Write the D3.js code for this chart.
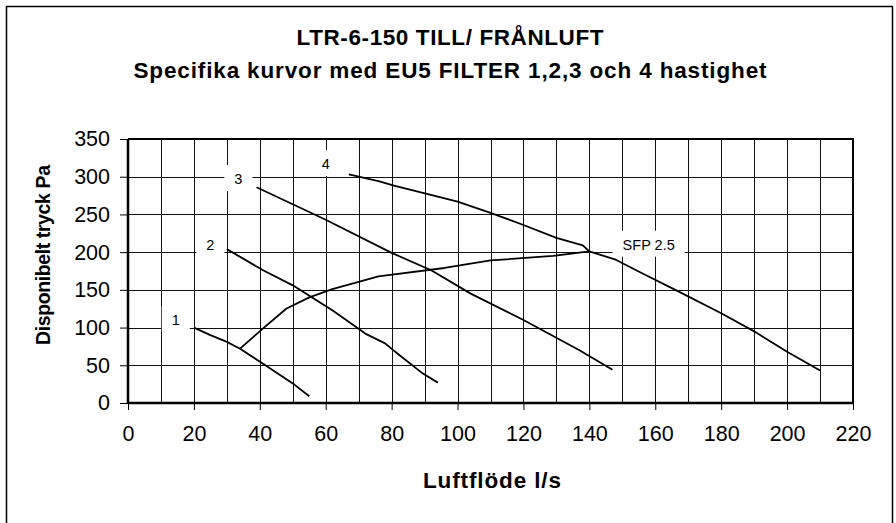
<!DOCTYPE html>
<html>
<head>
<meta charset="utf-8">
<script src="https://cdn.jsdelivr.net/npm/d3@7"></script>
<style>
  html, body { margin: 0; padding: 0; background: #fff; }
  svg { display: block; font-family: "Liberation Sans", Arial, sans-serif; }
</style>
</head>
<body>
<div id="chart"></div>
<script>
// Fan curves (x = airflow l/s, y = pressure Pa)
const curve1 = [[20, 100], [25, 90], [30, 81], [34, 72], [41, 52], [50, 26], [55, 9]];
const curve2 = [[30, 204], [41, 176], [50, 156], [62, 123], [72, 92], [78, 79], [82.5, 63], [89.5, 39], [94, 27]];
const curve3 = [[39, 286], [60, 243], [80, 199], [92, 176], [104, 145], [120, 110], [137, 70], [147, 44]];
const curve4 = [[67, 303], [76, 294], [81, 288], [91, 277], [100, 267], [110, 252], [120, 236], [130, 219],
                [138, 209], [140, 201], [148, 190], [156, 172], [167, 148], [180, 119], [190, 95], [200, 68], [210, 43]];
const sfpCurve = [[34, 72], [41, 99], [48, 125], [55, 140], [62, 151], [76, 168], [96, 179], [110, 189], [129, 195], [140, 201]];

// data labels: text and the data point they sit next to
const labelTexts = ["1", "2", "3", "4", "SFP 2.5"];
const labelPos = [[14.5, 110], [25, 210], [33.5, 297], [60, 317], [158, 210]];

const xTicks = d3.range(0, 221, 20);
const yTicks = d3.range(0, 351, 50);
const xGrid = d3.range(10, 221, 10);

const titleLines = ["LTR-6-150 TILL/ FRÅNLUFT", "Specifika kurvor med EU5 FILTER 1,2,3 och 4 hastighet"];
const xTitle = "Luftflöde l/s";
const yTitle = "Disponibelt tryck Pa";

const W = 896, H = 523;
const plot = { left: 128, right: 853, top: 139, bottom: 403 };

const svg = d3.select("#chart").append("svg")
  .attr("width", W)
  .attr("height", H);

// outer chart frame
svg.append("rect")
  .attr("x", 6.5).attr("y", 6.5)
  .attr("width", 886).attr("height", 530)
  .attr("fill", "none")
  .attr("stroke", "#000")
  .attr("stroke-width", 1.5);

const x = d3.scaleLinear().domain([0, 220]).range([plot.left, plot.right]);
const y = d3.scaleLinear().domain([0, 350]).range([plot.bottom, plot.top]);

// gridlines
const grid = svg.append("g").attr("shape-rendering", "crispEdges");
grid.selectAll(".vg").data(xGrid).join("line")
  .attr("x1", d => Math.round(x(d)) + 0.5).attr("x2", d => Math.round(x(d)) + 0.5)
  .attr("y1", plot.top).attr("y2", plot.bottom)
  .attr("stroke", "#111").attr("stroke-width", 1);
grid.selectAll(".hg").data(yTicks.filter(d => d > 0)).join("line")
  .attr("x1", plot.left).attr("x2", plot.right)
  .attr("y1", d => Math.round(y(d)) + 0.5).attr("y2", d => Math.round(y(d)) + 0.5)
  .attr("stroke", "#111").attr("stroke-width", 1);

// plot frame top + right
svg.append("path")
  .attr("d", `M${plot.left},${Math.round(y(350))}H${plot.right}V${plot.bottom}`)
  .attr("fill", "none").attr("stroke", "#000").attr("stroke-width", 2);

// axes
const xAxis = svg.append("g")
  .attr("transform", `translate(0,${plot.bottom})`)
  .call(d3.axisBottom(x).tickValues(xTicks).tickSize(7).tickPadding(16));
const yAxis = svg.append("g")
  .attr("transform", `translate(${plot.left},0)`)
  .call(d3.axisLeft(y).tickValues(yTicks).tickSize(8).tickPadding(10));

[xAxis, yAxis].forEach(a => {
  a.select(".domain").attr("stroke", "#000").attr("stroke-width", 2.5);
  a.selectAll(".tick line").attr("stroke", "#000").attr("stroke-width", 1);
  a.selectAll(".tick text")
    .attr("fill", "#000")
    .style("font-family", "'Liberation Sans', Arial, sans-serif")
    .style("font-size", "21.5px");
});
xAxis.select(".domain").attr("d", `M${plot.left},0H${plot.right}`);
yAxis.select(".domain").attr("d", `M0,${plot.bottom}V${Math.round(y(350))}`);

// curves
const line = d3.line().x(d => x(d[0])).y(d => y(d[1]));
const curves = [curve1, curve2, curve3, curve4, sfpCurve];
svg.append("g").selectAll("path").data(curves).join("path")
  .attr("d", line)
  .attr("fill", "none")
  .attr("stroke", "#000")
  .attr("stroke-width", 1.8)
  .attr("stroke-linejoin", "round");

// data labels with white boxes over the grid
const labels = svg.append("g").selectAll("g").data(labelTexts).join("g")
  .attr("transform", (d, i) => `translate(${x(labelPos[i][0])},${y(labelPos[i][1])})`);
labels.append("text")
  .attr("text-anchor", "middle")
  .attr("dy", "0.35em")
  .style("font-size", "14.5px")
  .text(d => d);
labels.each(function() {
  const g = d3.select(this);
  const bb = g.select("text").node().getBBox();
  g.insert("rect", "text")
    .attr("x", bb.x - 10).attr("y", bb.y - 6)
    .attr("width", bb.width + 20).attr("height", bb.height + 10)
    .attr("fill", "#fff");
});

// titles
svg.append("g").selectAll("text").data(titleLines).join("text")
  .attr("x", 450)
  .attr("y", (d, i) => 45 + i * 33)
  .attr("text-anchor", "middle")
  .attr("textLength", (d, i) => [307, 633][i])
  .attr("lengthAdjust", "spacing")
  .style("font-size", "22.5px")
  .style("font-weight", "bold")
  .text(d => d);

svg.append("text")
  .attr("x", 492).attr("y", 488)
  .attr("text-anchor", "middle")
  .attr("textLength", 138)
  .attr("lengthAdjust", "spacing")
  .style("font-size", "22.5px")
  .style("font-weight", "bold")
  .text(xTitle);

svg.append("text")
  .attr("transform", "translate(50,255) rotate(-90)")
  .attr("text-anchor", "middle")
  .attr("textLength", 180)
  .attr("lengthAdjust", "spacing")
  .style("font-size", "19.5px")
  .style("font-weight", "bold")
  .text(yTitle);
</script>
</body>
</html>
